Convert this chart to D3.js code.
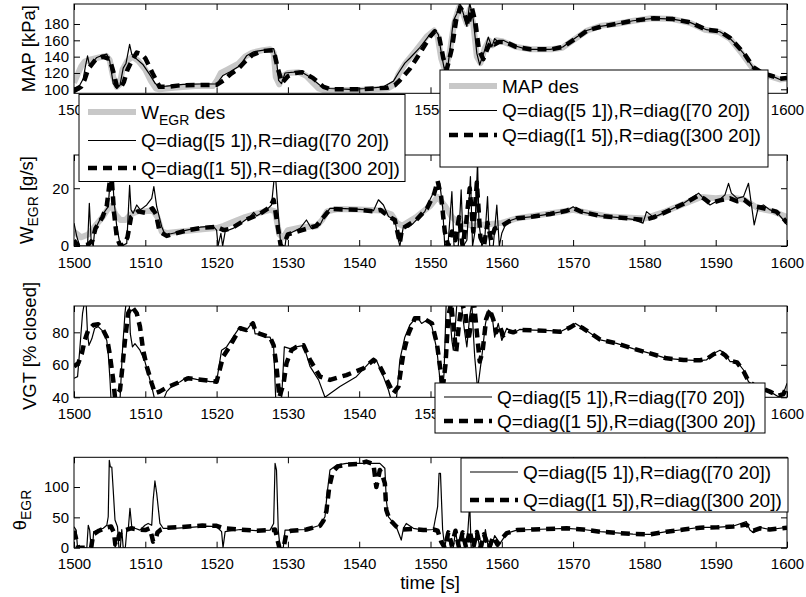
<!DOCTYPE html>
<html><head><meta charset="utf-8">
<script src="https://cdn.jsdelivr.net/npm/d3@7"></script>
<style>
body{margin:0;background:#fff}
svg{display:block}
text{font-family:"Liberation Sans",Arial,Helvetica,sans-serif;fill:#000}
</style>
</head><body>
<svg id="chart" width="806" height="597"></svg>
<script>
// ---------------- data (time [s], value) ----------------
const timeTicks = [1500,1510,1520,1530,1540,1550,1560,1570,1580,1590,1600];
const mapTicks = [100,120,140,160,180];
const wegrTicks = [0,20];
const vgtTicks = [40,60,80];
const thetaTicks = [0,50,100];

const legendLabels = {
  mapDes: "MAP des",
  wegrDes: ["W","EGR"," des"],
  ctrlA: "Q=diag([5 1]),R=diag([70 20])",
  ctrlB: "Q=diag([1 5]),R=diag([300 20])"
};

const mapDes = [[1500,108],[1500.5,118],[1501,128],[1501.5,134],[1502.5,137],[1503.5,139],[1504.5,141],[1505,136],[1505.5,115],[1506,103],[1506.4,106],[1506.8,124],[1507.5,135],[1508.2,140],[1509,135],[1510,124],[1510.8,110],[1511.5,101],[1512,100],[1514,102],[1517,104],[1519.5,104],[1520,110],[1520.6,120],[1521.5,124],[1523,131],[1524,140],[1525,145],[1526.5,148],[1527.5,149],[1528,145],[1528.3,115],[1528.8,106],[1529.3,116],[1530,120],[1531.5,121],[1532.5,117],[1533.5,108],[1534.3,101],[1535,99],[1540,99],[1544,101],[1545,106],[1545.5,118],[1546.5,132],[1548,148],[1549.5,165],[1550.5,172],[1551,165],[1551.5,138],[1552,124],[1552.6,140],[1553.3,180],[1554,200],[1554.6,192],[1555.1,180],[1555.5,198],[1556,180],[1556.5,140],[1557,132],[1557.6,150],[1558.2,160],[1558.7,154],[1559.2,160],[1560,159],[1562,152],[1564,149],[1567,149],[1568.5,151],[1570,160],[1572,172],[1574,178],[1576,180],[1578.5,184],[1581,187],[1584,186],[1586.5,181],[1588.5,173],[1590.5,170],[1592,162],[1593.5,146],[1595,128],[1596.5,119],[1598,115],[1599,112],[1600,113]];
const mapA = [[1500,101],[1500.8,105],[1501.3,113],[1501.6,128],[1501.9,141],[1502.15,130],[1502.5,132],[1503.2,139],[1504.1,142],[1504.6,143],[1505,135],[1505.5,107],[1506,101],[1506.45,105],[1506.9,126],[1507.3,132],[1507.8,155],[1508.1,143],[1508.8,137],[1509.7,130],[1510.7,117],[1511.4,107],[1512.1,102.5],[1513,104],[1515.3,106],[1517.7,106.5],[1520,106.5],[1520.9,117],[1521.9,121.5],[1523.3,129],[1524.2,141],[1525.2,146],[1526.6,148],[1528,150],[1528.4,136],[1528.7,111],[1529.1,107],[1529.6,120],[1530.8,121],[1531.7,122],[1533.1,115],[1534.5,105],[1535.9,101],[1538.7,100],[1541,101],[1543.4,103],[1544.8,110],[1545.5,120],[1546.4,132],[1547.1,138],[1548.5,151],[1549.9,167],[1550.6,173],[1551.1,167],[1551.6,140],[1552,122],[1552.5,132],[1553.2,184],[1553.7,193],[1554.1,206],[1554.6,193],[1555.1,177],[1555.5,206],[1556,185],[1556.5,144],[1556.9,130],[1557.6,148],[1558.1,164],[1558.6,152],[1559,162],[1559.5,158],[1560.2,160],[1561.6,154],[1563.5,149],[1566.8,149],[1568.6,152],[1570.5,164],[1571.9,172],[1573.8,177],[1576.1,180],[1578.4,184],[1581.3,187],[1584,186],[1586.4,182],[1588.7,173],[1590.6,170.5],[1591.8,164],[1592.5,158],[1593.9,144],[1595.3,126],[1596.2,121],[1598.1,115.5],[1599,112],[1600,114.5]];
const mapB = [[1500,98],[1501,103],[1501.5,112],[1502,125],[1503,136],[1504,140],[1505,137],[1505.5,122],[1506,104],[1506.5,101],[1507,109],[1507.5,124],[1508,133],[1508.8,145],[1509.5,143],[1510,138],[1511,120],[1512,103],[1513,103],[1515,105],[1520,105.5],[1521,111],[1522,119],[1523,125],[1524,134],[1525,142],[1526.5,147],[1528,148],[1528.6,125],[1529.2,108],[1530,116],[1531,120],[1532,121],[1533.5,114],[1535,103],[1536,100],[1540,100],[1544,102],[1545,105],[1545.7,111],[1547.1,125],[1548.5,144],[1549.9,164],[1550.6,171],[1551.2,165],[1551.8,138],[1552.3,125],[1553,150],[1553.6,185],[1554.2,200],[1554.8,192],[1555.3,178],[1555.8,200],[1556.3,182],[1556.8,148],[1557.4,137],[1558,150],[1558.5,158],[1559,155],[1559.6,158],[1560.5,158],[1562,152],[1564,149],[1567,149],[1568.6,152],[1570.5,163],[1572,172],[1574,177],[1576,180],[1578.4,184],[1581.3,187],[1584,186],[1586.4,182],[1588.7,173],[1590.6,171],[1592,163],[1593.9,145],[1595.3,127],[1596.5,120],[1598,116],[1599,113],[1600,114]];

const wegrDes = [[1500,5],[1501,3],[1502,4],[1503,7],[1504,10],[1504.8,13],[1505.3,14],[1505.8,11],[1506.5,9],[1507.2,9],[1508,11],[1509,12],[1510,12],[1511,12.5],[1511.7,10],[1512.3,5],[1513,4.5],[1515,5],[1518,5.8],[1520,6.2],[1521,7],[1522,8],[1524,10],[1526,11.5],[1527.5,12.5],[1528.2,12],[1528.8,4],[1529.4,3],[1530,5.5],[1532,6.5],[1534,6.8],[1534.8,9],[1535.5,12],[1537,12.8],[1540,12.6],[1543,12.3],[1544.5,11],[1545.3,8],[1546,7],[1548,10],[1550,14],[1551,17],[1552,14],[1553,10],[1554,8],[1556,7],[1558,7.5],[1560,8],[1562,9.5],[1566,11],[1570,12.5],[1572,11.5],[1575,10.2],[1580,9.5],[1583,12],[1585,14],[1588,17],[1590,16.5],[1592,17],[1594,16],[1596,13],[1598,12],[1600,10]];
const wegrA = [[1500,7.9],[1500.4,3.2],[1500.8,0],[1501.9,0],[1502.15,14.8],[1502.4,2],[1502.7,0],[1502.9,5.5],[1503.6,9],[1504.3,11.9],[1504.8,13.6],[1505.1,24],[1505.4,25.2],[1505.6,16],[1506,6.7],[1506.35,2],[1506.7,0],[1507.4,0.9],[1507.8,21],[1508,12.5],[1508.3,11.3],[1508.8,14.2],[1509.3,12.5],[1510.2,14.2],[1510.9,16.5],[1511.2,20.6],[1511.6,13.6],[1512.3,6.7],[1512.8,3.8],[1513.9,4.4],[1515.8,5.5],[1517.7,6.5],[1519.5,6.9],[1520,5.5],[1520.2,0],[1520.6,4.4],[1520.85,0],[1521.2,5],[1522.3,6.1],[1523.7,8.4],[1524.7,10.2],[1525.2,11.6],[1525.6,10.4],[1527,12.5],[1527.7,14.2],[1528.1,24],[1528.3,22.9],[1528.65,11.3],[1529,0],[1529.6,0],[1529.8,3.8],[1530.8,5],[1531.7,6.1],[1532.6,9],[1533.3,6.1],[1534.5,7.3],[1535.2,10.7],[1535.9,13],[1537.3,13],[1540.1,12.7],[1542,12.2],[1542.7,16],[1543.4,14.2],[1544.1,10.2],[1545,9],[1545.5,2],[1545.7,0],[1546.2,6.7],[1546.9,6.5],[1547.6,7.9],[1548.5,10.2],[1549.2,11.9],[1549.9,15.9],[1550.6,19.4],[1551.3,21.7],[1551.7,13.6],[1552,0],[1552.5,2],[1553,18.8],[1553.3,0],[1553.9,0],[1554.3,19.4],[1554.6,0],[1555.1,2],[1555.6,24],[1555.9,0],[1556.2,4.4],[1556.6,28.9],[1556.8,7.9],[1557.2,0],[1557.6,2],[1558,17.1],[1558.3,0],[1558.8,0],[1559.3,14.2],[1559.65,0],[1560,4.4],[1560.7,8.4],[1562.1,9.6],[1564.4,10.2],[1566.8,11.1],[1569.1,12.2],[1570,13.6],[1571,11.9],[1573.8,10.4],[1576.1,9.9],[1578.4,9.2],[1579.8,7.9],[1580.3,11.9],[1581.3,9.9],[1583.1,11.9],[1585.5,14.8],[1587.6,18.3],[1588.3,16.5],[1589.2,14.2],[1590.6,16.2],[1591.3,17.7],[1591.8,21.7],[1592.2,18.3],[1593,16.5],[1593.9,17.1],[1594.6,21.7],[1595.05,13.6],[1595.4,7.3],[1596,13.6],[1596.7,14.2],[1597.6,12.5],[1598.5,11.9],[1599.5,9],[1600,7.3]];
const wegrB = [[1500,2],[1500.6,0],[1502,0.5],[1502.6,2],[1503,6],[1504,10],[1504.6,14],[1505,22],[1505.3,23],[1505.6,12],[1506,3],[1506.5,0],[1507,0.5],[1507.5,3],[1508,10],[1509,12],[1510,11.5],[1511,13],[1511.5,11],[1512,5],[1513,3.5],[1514,4.2],[1516,5.5],[1518,6.3],[1520,6.6],[1521,5.5],[1522,6],[1524,9],[1526,11],[1527.5,13.5],[1528,16],[1528.5,8],[1529,0],[1529.5,1],[1530,4],[1532,5.5],[1534,7],[1535.5,11.5],[1536,12.8],[1540,12.5],[1542,12],[1543,12.5],[1544,10.5],[1545,9],[1545.7,1],[1546,6],[1548,9],[1549.5,13],[1550.5,18],[1551,22.5],[1551.5,17],[1552,5],[1552.5,0],[1553,5],[1553.5,2],[1554,10],[1554.5,0],[1555,8],[1555.5,20],[1556,5],[1556.5,22],[1557,3],[1557.5,0],[1558,8],[1558.5,2],[1559,6],[1560,7],[1561,8.5],[1562.1,9.6],[1564.4,10.2],[1566.8,11.1],[1569.1,12.2],[1570,13.2],[1571,12],[1573.8,10.4],[1576.1,9.9],[1578.4,9.4],[1580,9],[1581.3,9.9],[1583.1,11.9],[1585.5,14.6],[1587.6,17.5],[1588.3,16.5],[1589.2,14.8],[1590.6,15.8],[1592,16.5],[1593,15.5],[1594,16],[1595,14],[1596,13.5],[1597.6,12.5],[1598.5,11.9],[1599.5,9.5],[1600,8]];

const vgtA = [[1500,51.7],[1500.5,52.7],[1500.8,69],[1501.2,91.7],[1501.45,98],[1501.7,98],[1501.9,79],[1502.1,72],[1502.5,76],[1502.9,82.5],[1503.4,83.5],[1504.1,80.4],[1504.6,75],[1504.8,67],[1505.05,50.7],[1505.2,38],[1506.45,38],[1506.8,69],[1507.15,91.7],[1507.3,98],[1507.75,98],[1507.9,79],[1508.2,71],[1508.55,73],[1509.25,69],[1509.95,62],[1510.4,54.8],[1510.9,46.6],[1511.35,38],[1512.5,38],[1513,43.5],[1513.9,47.6],[1514.9,49.6],[1515.8,52.3],[1517.2,51],[1519.1,49.6],[1520,49.6],[1520.7,69],[1521.4,71],[1522.3,77],[1523.3,83.5],[1524.2,81.4],[1525.1,86.6],[1525.4,79],[1526.1,79],[1526.8,77],[1527.5,77],[1528,71],[1528.3,38],[1529.1,38],[1529.5,71],[1530.3,70],[1531.2,71],[1532.2,72],[1533.1,59],[1534.3,50.7],[1535.2,40],[1537.3,46.6],[1539.6,52.7],[1542,64],[1542.4,63],[1543.4,52.7],[1544.1,44.5],[1544.5,38],[1545.2,38],[1545.7,63],[1546.4,77],[1547.1,84.5],[1548.1,89.6],[1548.75,85.5],[1549.5,87.6],[1550.2,83.5],[1550.9,69],[1551.3,52],[1551.6,38],[1551.9,55],[1552.2,98],[1552.6,98],[1553,75],[1553.2,69],[1553.5,85],[1553.7,98],[1554.3,98],[1554.8,80],[1555.1,71],[1555.5,90],[1555.8,98],[1556,80],[1556.2,65],[1556.6,45],[1556.9,55],[1557.2,65],[1557.7,85],[1558.1,93.7],[1558.6,91.7],[1559,77],[1559.5,85.5],[1560,75],[1560.7,82.5],[1561.6,79.4],[1562.5,81.8],[1564.4,81.4],[1566.8,81],[1568.2,80.4],[1569.6,83.5],[1570.3,85.5],[1571.4,82.5],[1573.8,75.3],[1576.1,73.2],[1578.4,70],[1580.8,67],[1583.1,64],[1585.5,63],[1587.8,62.6],[1588.7,63],[1589.7,67],[1590.6,69],[1591.3,67],[1592,62],[1593,62],[1593.9,56.8],[1594.6,49.6],[1595.5,47],[1596.2,46.6],[1597.6,43.5],[1598.8,40.4],[1599.5,42.5],[1600,48.6]];
const vgtB = [[1500,59],[1500.6,61],[1501.1,67],[1501.5,75],[1502,81.4],[1502.7,84.5],[1503.4,85],[1504.1,81.4],[1504.6,77],[1505,67],[1505.5,50.7],[1505.75,40],[1506.45,44.5],[1506.7,54.8],[1507.15,75],[1507.6,91.7],[1508.1,96],[1508.8,91.7],[1509.25,83.5],[1509.7,69],[1510.2,59],[1510.9,48.6],[1511.35,42.5],[1512,43.5],[1513,46],[1514.9,49.6],[1516,51.7],[1518.1,50.7],[1520,49.6],[1520.9,65],[1521.8,71],[1523.3,82.5],[1524.2,81.4],[1525.1,85.5],[1525.5,80],[1526.1,79],[1527.5,77],[1528,72],[1528.4,59],[1528.8,40],[1529.4,48.6],[1529.8,61],[1530.5,69],[1531.2,71],[1532.2,72],[1533.1,63],[1534.5,52.7],[1535.9,50.7],[1538.2,53.7],[1540.6,57.8],[1542,63],[1542.9,59],[1544.1,48.6],[1544.8,42.5],[1545.5,46.6],[1546.2,67],[1546.9,79],[1547.8,88.6],[1549,88.6],[1550.2,85.5],[1550.9,73],[1551.3,60],[1551.7,45],[1552.1,60],[1552.5,90],[1552.9,98],[1553.3,80],[1553.6,68],[1554,85],[1554.4,98],[1554.9,92],[1555.3,75],[1555.7,85],[1556.1,98],[1556.5,80],[1556.9,62],[1557.3,68],[1557.8,88],[1558.3,94],[1558.8,88],[1559.2,80],[1559.7,84],[1560.2,78],[1560.8,81],[1561.6,80],[1562.5,81.5],[1564.4,81.2],[1566.8,80.8],[1568.2,80.4],[1569.6,83],[1570.3,85],[1571.4,82.5],[1573.8,75.5],[1576.1,73.2],[1578.4,70],[1580.8,67],[1583.1,64],[1585.5,63],[1587.8,62.8],[1588.7,63.5],[1589.7,66.5],[1590.6,68],[1591.3,66],[1592,62.5],[1593,61.5],[1593.9,56],[1594.6,50],[1595.5,47],[1596.2,46],[1597.6,43.5],[1598.8,41],[1599.5,42],[1600,47]];

const thetaA = [[1500,34.6],[1500.3,29],[1500.5,0],[1501.8,0],[1502,37],[1502.2,29],[1502.4,0],[1502.6,0],[1502.75,26],[1503.4,29],[1504.1,32],[1504.6,37],[1504.8,51],[1504.95,144],[1505.1,133],[1505.3,133],[1505.5,95],[1505.75,45.6],[1506.1,34.6],[1506.3,0],[1506.5,0],[1506.7,30],[1506.9,0],[1507.2,0],[1507.4,28],[1507.6,29],[1507.85,65],[1508.1,34.6],[1508.55,32],[1509.25,29],[1509.95,37],[1510.4,40],[1510.9,37],[1511.1,78.6],[1511.35,110],[1511.6,89.6],[1512.05,40],[1512.5,32],[1513.9,32],[1516.3,33.5],[1518.6,35.7],[1520,34.6],[1520.7,26.4],[1520.9,0],[1521.2,26.4],[1523.3,30],[1525.6,28],[1527.5,29],[1528,40],[1528.2,139],[1528.4,128],[1528.65,29],[1528.9,0],[1529.35,0],[1529.6,29],[1530.1,29],[1532.6,30],[1534.5,37],[1535.2,51],[1535.5,89.6],[1535.9,128],[1536.8,136],[1538.2,139],[1540.1,139],[1542,139],[1542.9,139],[1543.6,131],[1543.8,78.6],[1544.1,51],[1545.2,34.6],[1545.9,12.6],[1546.2,32],[1546.6,40],[1547.6,32],[1549,29],[1550.4,30],[1551,67.6],[1551.2,122.5],[1551.4,122.5],[1551.7,30],[1552,0],[1552.4,28],[1552.8,0],[1553.2,0],[1553.5,27],[1553.9,0],[1554.5,28],[1554.9,0],[1555.2,20],[1555.5,73],[1555.7,0],[1556,0],[1556.5,27],[1556.9,0],[1557.3,0],[1557.7,30],[1558.1,0],[1558.5,0],[1559,20],[1559.75,7],[1560.7,23.6],[1562.1,29],[1564.4,30],[1569.1,31.9],[1571.4,30],[1573.8,26.4],[1578.4,22.5],[1580.8,22],[1583.1,26.4],[1585.5,30],[1587.8,33.5],[1590.1,33.5],[1592.5,35.7],[1594.3,42.9],[1594.8,29],[1595.3,24.7],[1596.2,33.5],[1597.6,30],[1600,33.5]];
const thetaB = [[1500,28],[1500.4,10],[1500.6,0],[1502.4,0],[1502.7,22],[1503.5,28],[1504.5,33],[1505.2,35],[1505.6,25],[1505.8,5],[1506.1,3],[1506.3,20],[1506.6,26],[1507.2,29],[1508,32],[1509,30],[1510,29],[1510.6,32],[1510.9,20],[1511.1,10],[1511.4,12],[1511.7,25],[1512.2,30],[1513,33],[1515,34],[1518,36.5],[1520,36],[1521,32],[1523,30],[1525.6,28],[1527.5,29],[1528.2,30],[1528.5,15],[1528.8,0],[1529.4,0],[1529.8,25],[1530.5,28],[1532.6,30],[1534.5,36],[1535,45],[1535.4,60],[1535.8,100],[1536.3,125],[1537,134],[1538.2,137],[1540,138],[1541,142],[1542,138],[1542.4,100],[1542.9,128],[1543.3,118],[1543.6,106],[1543.8,62],[1544.3,45.6],[1544.8,40],[1545.2,35],[1546,30],[1547.6,31],[1549,29],[1550.4,30],[1551,28],[1551.5,10],[1552,0],[1552.5,25],[1553,5],[1553.5,28],[1554,0],[1554.5,25],[1555,0],[1555.5,28],[1556,0],[1556.5,26],[1557,0],[1557.5,22],[1558.2,0],[1558.8,18],[1559.4,5],[1560,15],[1560.7,24],[1562.1,29],[1564.4,30],[1569.1,31.9],[1571.4,30],[1573.8,26.4],[1578.4,22.5],[1580.8,22],[1583.1,26.4],[1585.5,30],[1587.8,33],[1590.1,33.5],[1592.5,35],[1594.3,38],[1595.3,28],[1596.2,32],[1597.6,30],[1600,33]];

// ---------------- layout ----------------
const svg = d3.select("#chart");
const X0 = 74, X1 = 787;
const x = d3.scaleLinear().domain([1500,1600]).range([X0,X1]);

const styles = {
  des: {stroke:"#c8c8c8", w:6, dash:null},
  a:   {stroke:"#000", w:1.2, dash:null},
  b:   {stroke:"#000", w:4.5, dash:"9,6"}
};

// tick labels hidden behind a legend box (not visible in the figure)
const coveredP1 = [1510,1520,1530,1540,1560,1570,1580,1590];
const coveredP3 = [1560,1570,1580,1590];

const panels = [
  {top:4, bottom:93.3, domain:[95.1,204.5], ticks:mapTicks, covered:coveredP1, series:[[mapDes,"des"],[mapA,"a"],[mapB,"b"]]},
  {top:155, bottom:246, domain:[0,31.5], ticks:wegrTicks, covered:[], series:[[wegrDes,"des"],[wegrA,"a"],[wegrB,"b"]]},
  {top:306, bottom:397.3, domain:[40,96.2], ticks:vgtTicks, covered:coveredP3, series:[[vgtA,"a"],[vgtB,"b"]]},
  {top:457.3, bottom:547.7, domain:[0,149], ticks:thetaTicks, covered:[], series:[[thetaA,"a"],[thetaB,"b"]]}
];

const TF = 15;
panels.forEach((p,i)=>{
  const y = d3.scaleLinear().domain(p.domain).range([p.bottom,p.top]);
  const g = svg.append("g");
  const cid = "clip"+i;
  svg.append("clipPath").attr("id",cid).append("rect")
    .attr("x",X0).attr("y",p.top).attr("width",X1-X0).attr("height",p.bottom-p.top);
  const line = d3.line().x(d=>x(d[0])).y(d=>y(d[1]));
  const lg = g.append("g").attr("clip-path",`url(#${cid})`);
  p.series.forEach(([data,st])=>{
    const s = styles[st];
    lg.append("path").attr("d",line(data)).attr("fill","none")
      .attr("stroke",s.stroke).attr("stroke-width",s.w)
      .attr("stroke-dasharray",s.dash).attr("stroke-linejoin","round");
  });
  const ax = (gen,tx,ty,labels)=>{
    const a = g.append("g").attr("transform",`translate(${tx},${ty})`).call(gen);
    a.select(".domain").remove();
    a.selectAll("line").attr("stroke","#000").attr("stroke-width",1);
    a.selectAll("text").style("font-size",TF+"px").attr("fill","#000")
      .style("font-family",'"Liberation Sans",Arial,sans-serif');
    if(!labels) a.selectAll("text").remove();
    return a;
  };
  const bx = ax(d3.axisBottom(x).tickValues(timeTicks).tickSizeInner(-6).tickSizeOuter(0).tickPadding(11).tickFormat(d3.format("d")),0,p.bottom,true);
  bx.selectAll(".tick").filter(d=>p.covered.includes(d)).select("text").remove();
  ax(d3.axisTop(x).tickValues(timeTicks).tickSizeInner(-6).tickSizeOuter(0),0,p.top,false);
  ax(d3.axisLeft(y).tickValues(p.ticks).tickSizeInner(-6).tickSizeOuter(0).tickPadding(5),X0,0,true);
  ax(d3.axisRight(y).tickValues(p.ticks).tickSizeInner(-6).tickSizeOuter(0),X1,0,false);
  g.append("rect").attr("x",X0).attr("y",p.top).attr("width",X1-X0).attr("height",p.bottom-p.top)
    .attr("fill","none").attr("stroke","#000").attr("stroke-width",1);
});

// axis labels
const LF = 18.5;
function ylabel(xp, yc, parts){
  const t = svg.append("text").attr("transform",`translate(${xp},${yc}) rotate(-90)`)
    .attr("text-anchor","middle").style("font-size",LF+"px");
  parts.forEach(pt=>{
    const ts = t.append("tspan").text(pt.t);
    if(pt.sub) ts.style("font-size","14px").attr("dy",5);
    if(pt.back) ts.attr("dy",-5);
  });
}
ylabel(35,48.6,[{t:"MAP [kPa]"}]);
ylabel(33,200,[{t:"W"},{t:"EGR",sub:true},{t:" [g/s]",back:true}]);
ylabel(36,346,[{t:"VGT [% closed]"}]);
ylabel(26,510,[{t:"θ"},{t:"EGR",sub:true}]);
svg.append("text").attr("x",430).attr("y",589).attr("text-anchor","middle")
  .style("font-size",LF+"px").text("time [s]");

// legends
const LGF = 19;
function legend(bx,by,bw,bh,rows){
  const g = svg.append("g");
  g.append("rect").attr("x",bx).attr("y",by).attr("width",bw).attr("height",bh)
    .attr("fill","#fff").attr("stroke","#000").attr("stroke-width",1);
  rows.forEach(r=>{
    const s = styles[r.st];
    g.append("line").attr("x1",bx+9).attr("x2",bx+57).attr("y1",r.y).attr("y2",r.y)
      .attr("stroke",s.stroke).attr("stroke-width",s.w).attr("stroke-dasharray",s.dash);
    const t = g.append("text").attr("x",bx+62).attr("y",r.y).attr("dy","0.36em").style("font-size",LGF+"px");
    if(Array.isArray(r.label)){
      t.append("tspan").text(r.label[0]);
      t.append("tspan").text(r.label[1]).style("font-size","14px").attr("dy",6);
      t.append("tspan").text(r.label[2]).attr("dy",-6);
    } else t.text(r.label);
  });
}
legend(79,94.5,326,87,[{st:"des",label:legendLabels.wegrDes,y:112},{st:"a",label:legendLabels.ctrlA,y:140.5},{st:"b",label:legendLabels.ctrlB,y:168}]);
legend(440,70,328,97,[{st:"des",label:legendLabels.mapDes,y:86},{st:"a",label:legendLabels.ctrlA,y:110.5},{st:"b",label:legendLabels.ctrlB,y:135}]);
legend(435,383,330,50,[{st:"a",label:legendLabels.ctrlA,y:397},{st:"b",label:legendLabels.ctrlB,y:421}]);
legend(461,458,327,54,[{st:"a",label:legendLabels.ctrlA,y:472},{st:"b",label:legendLabels.ctrlB,y:500}]);
</script>
</body></html>
